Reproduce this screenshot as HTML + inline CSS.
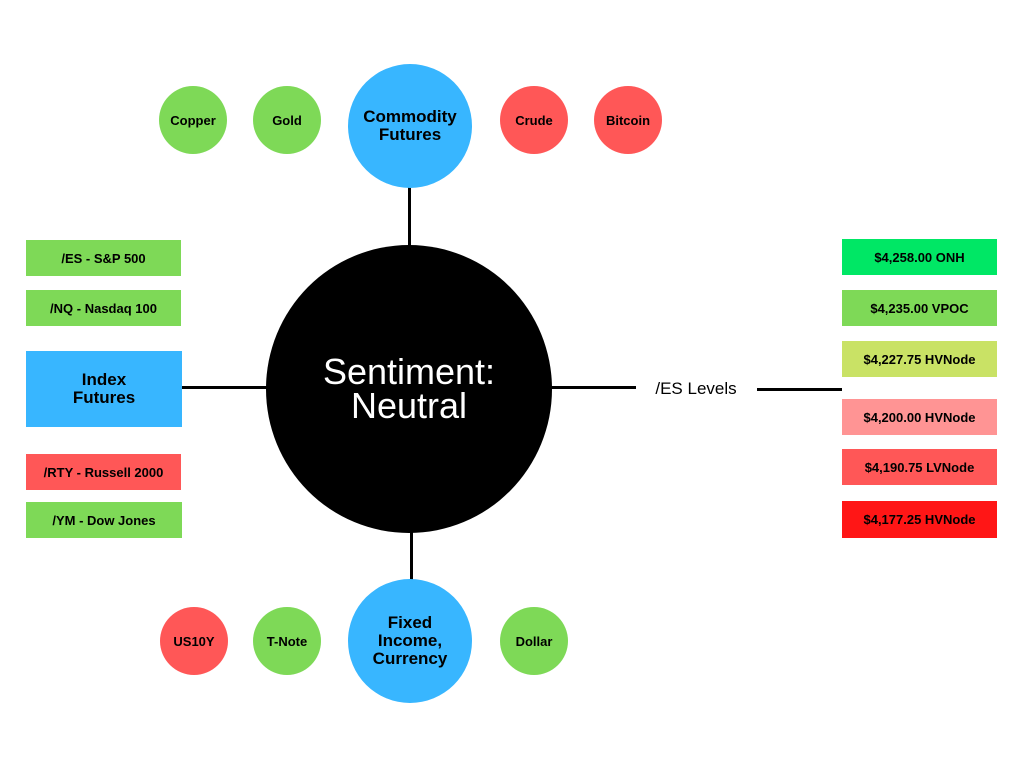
<!DOCTYPE html>
<html><head><meta charset="utf-8"><style>
body{margin:0;width:1024px;height:768px;background:#fff;position:relative;font-family:"Liberation Sans",sans-serif;overflow:hidden}
.a{position:absolute;display:flex;align-items:center;justify-content:center;text-align:center;font-weight:bold;color:#000;box-sizing:border-box}
.c{border-radius:50%}
.l{position:absolute;background:#000}
.g{background:#7ed957}.r{background:#ff5757}.b{background:#38b6ff}
.s{font-size:13px}
</style></head><body>
<div class="l" style="left:408px;top:186px;width:3px;height:62px"></div>
<div class="l" style="left:410px;top:530px;width:3px;height:52px"></div>
<div class="l" style="left:182px;top:386px;width:86px;height:3px"></div>
<div class="l" style="left:550px;top:386px;width:86px;height:3px"></div>
<div class="l" style="left:757px;top:388px;width:85px;height:3px"></div>
<div class="a c" style="left:266px;top:245px;width:286px;height:288px;background:#000;color:#fff;font-weight:normal;font-size:36px;line-height:34px">Sentiment:<br>Neutral</div>
<div class="a" style="left:636px;top:378px;width:120px;height:22px;font-weight:normal;font-size:17px">/ES Levels</div>
<div class="a c b" style="left:348px;top:64px;width:124px;height:124px;font-size:17px;line-height:18px">Commodity<br>Futures</div>
<div class="a c b" style="left:348px;top:579px;width:124px;height:124px;font-size:17px;line-height:18px">Fixed<br>Income,<br>Currency</div>
<div class="a c g s" style="left:159px;top:86px;width:68px;height:68px">Copper</div>
<div class="a c g s" style="left:253px;top:86px;width:68px;height:68px">Gold</div>
<div class="a c r s" style="left:500px;top:86px;width:68px;height:68px">Crude</div>
<div class="a c r s" style="left:594px;top:86px;width:68px;height:68px">Bitcoin</div>
<div class="a c r s" style="left:160px;top:607px;width:68px;height:68px">US10Y</div>
<div class="a c g s" style="left:253px;top:607px;width:68px;height:68px">T-Note</div>
<div class="a c g s" style="left:500px;top:607px;width:68px;height:68px">Dollar</div>
<div class="a g s" style="left:26px;top:240px;width:155px;height:36px">/ES - S&amp;P 500</div>
<div class="a g s" style="left:26px;top:290px;width:155px;height:36px">/NQ - Nasdaq 100</div>
<div class="a b" style="left:26px;top:351px;width:156px;height:76px;font-size:17px;line-height:18px">Index<br>Futures</div>
<div class="a r s" style="left:26px;top:454px;width:155px;height:36px">/RTY - Russell 2000</div>
<div class="a g s" style="left:26px;top:502px;width:156px;height:36px">/YM - Dow Jones</div>
<div class="a s" style="left:842px;top:239px;width:155px;height:36px;background:#00e765">$4,258.00 ONH</div>
<div class="a s g" style="left:842px;top:290px;width:155px;height:36px">$4,235.00 VPOC</div>
<div class="a s" style="left:842px;top:341px;width:155px;height:36px;background:#c9e265">$4,227.75 HVNode</div>
<div class="a s" style="left:842px;top:399px;width:155px;height:36px;background:#ff9494">$4,200.00 HVNode</div>
<div class="a s r" style="left:842px;top:449px;width:155px;height:36px">$4,190.75 LVNode</div>
<div class="a s" style="left:842px;top:501px;width:155px;height:37px;background:#ff1616">$4,177.25 HVNode</div>
</body></html>
